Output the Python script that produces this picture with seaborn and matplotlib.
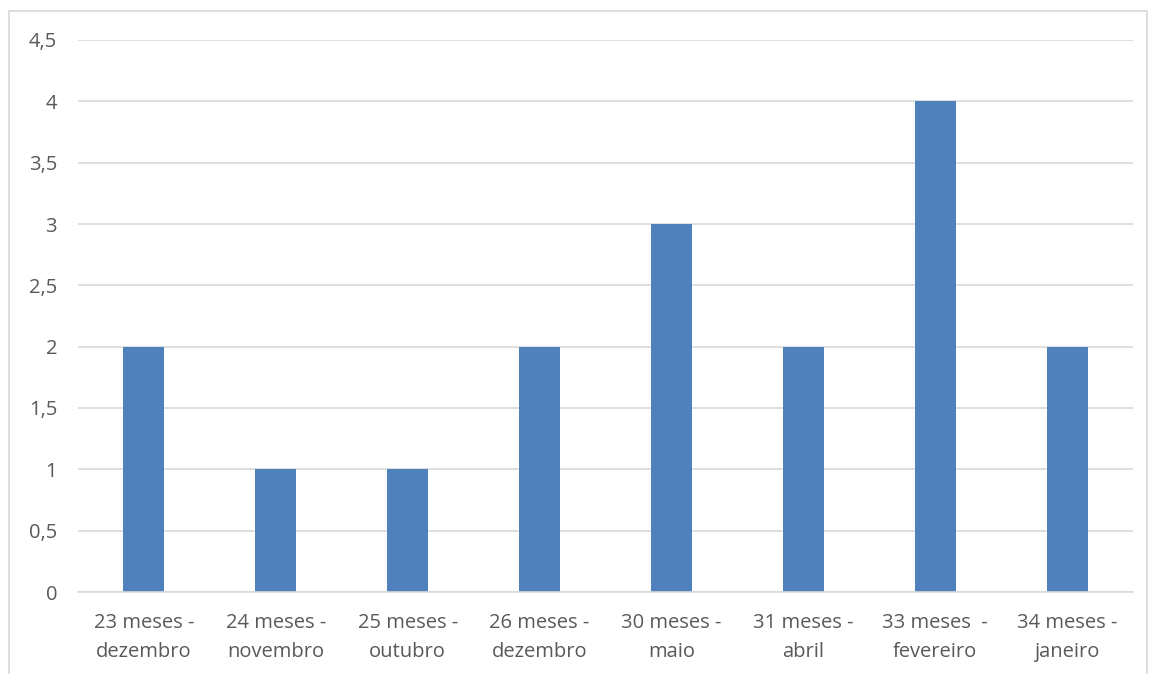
import matplotlib
matplotlib.use("Agg")
import matplotlib.pyplot as plt
import seaborn as sns
import pandas as pd
from matplotlib.patches import Rectangle

categories = ["23 meses -\ndezembro", "24 meses -\nnovembro", "25 meses -\noutubro",
              "26 meses -\ndezembro", "30 meses -\nmaio", "31 meses -\nabril",
              "33 meses  -\nfevereiro", "34 meses -\njaneiro"]
values = [2, 1, 1, 2, 3, 2, 4, 2]
yticks = [0, 0.5, 1, 1.5, 2, 2.5, 3, 3.5, 4, 4.5]
ytick_labels = ["0", "0,5", "1", "1,5", "2", "2,5", "3", "3,5", "4", "4,5"]

sns.set_theme(style="white")
plt.rcParams['font.family'] = ['Open Sans', 'DejaVu Sans']

df = pd.DataFrame({"cat": categories, "val": values})

fig = plt.figure(figsize=(11.57, 6.74), dpi=100)
ax = fig.add_axes([78/1157, 1-592/674, (1133-78)/1157, (592-40)/674])
sns.barplot(data=df, x="cat", y="val", color="#4F81BD", saturation=1, width=0.31,
            linewidth=0, ax=ax)

ax.set_ylim(0, 4.5)
ax.set_yticks(yticks)
ax.set_yticklabels(ytick_labels)
ax.set_xlim(-0.5, len(categories) - 0.5)
ax.set_xlabel("")
ax.set_ylabel("")
ax.yaxis.grid(True, color="#D9D9D9", linewidth=1.2)
ax.set_axisbelow(True)
for s in ["top", "right", "left"]:
    ax.spines[s].set_visible(False)
ax.spines["bottom"].set_color("#D9D9D9")
ax.spines["bottom"].set_linewidth(1.2)
ax.tick_params(axis="both", length=0, labelsize=14.5, colors="#595959")
ax.tick_params(axis="y", pad=15)
ax.tick_params(axis="x", pad=15)
for lbl in ax.get_xticklabels():
    lbl.set_linespacing(1.6)

fig.patches.append(Rectangle((9/1157, -0.01), (1147-9)/1157, 1 - 11/674 + 0.01,
                             transform=fig.transFigure, fill=False,
                             edgecolor="#D9D9D9", linewidth=1.2))

fig.savefig("out.png", dpi=100)
